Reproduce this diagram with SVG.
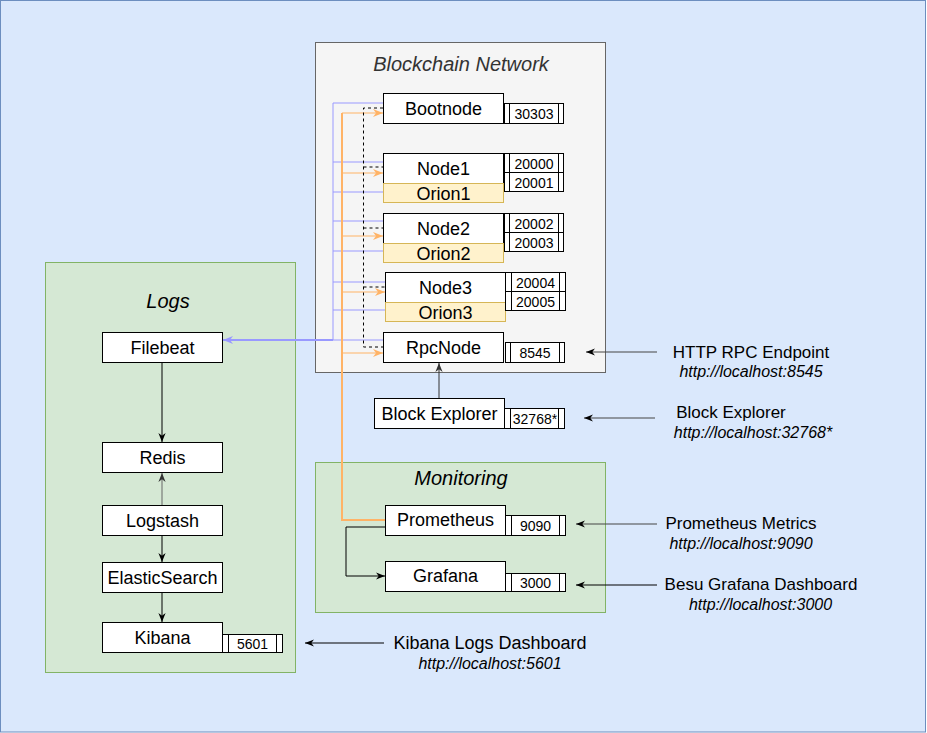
<svg xmlns="http://www.w3.org/2000/svg" width="927" height="733" viewBox="0 0 927 733">
<style>
text{font-family:"Liberation Sans",Arial,sans-serif;fill:#000}
.t{font-size:20px;font-style:italic;text-anchor:middle}
.n{font-size:18px;text-anchor:middle}
.p{font-size:14px;text-anchor:middle}
.a{font-size:17px;text-anchor:middle}
.u{font-size:16px;font-style:italic;text-anchor:middle}
.box{fill:#fff;stroke:#000;stroke-width:1}
.orion{fill:#fff2cc;stroke:#d6b656;stroke-width:1}
.port{fill:#fff;stroke:#000;stroke-width:1}
.pl{stroke:#000;stroke-width:1;fill:none}
.blk{stroke:#000;stroke-width:1;fill:none}
.blue{stroke:#9999ff;stroke-width:1;fill:none}
.org{stroke:#ffb366;stroke-width:1.2;fill:none}
.dash{stroke:#000;stroke-width:1;fill:none;stroke-dasharray:3 3}
</style>
<defs>
<marker id="ab" viewBox="0 0 10 10" refX="10" refY="5" markerWidth="9" markerHeight="9" markerUnits="userSpaceOnUse" orient="auto"><path d="M0,1 L10,5 L0,9 L3,5 z" fill="#000"/></marker>
<marker id="ag" viewBox="0 0 10 10" refX="10" refY="5" markerWidth="9" markerHeight="9" markerUnits="userSpaceOnUse" orient="auto"><path d="M0,1 L10,5 L0,9 L3,5 z" fill="#333"/></marker>
<marker id="ao" viewBox="0 0 10 10" refX="10" refY="5" markerWidth="10" markerHeight="10" markerUnits="userSpaceOnUse" orient="auto"><path d="M0,1 L10,5 L0,9 L3,5 z" fill="#ffb366"/></marker>
<marker id="au" viewBox="0 0 10 10" refX="10" refY="5" markerWidth="10" markerHeight="10" markerUnits="userSpaceOnUse" orient="auto"><path d="M0,1 L10,5 L0,9 L3,5 z" fill="#9999ff"/></marker>
</defs>

<rect x="0.5" y="0.5" width="925" height="731.5" fill="#dae8fc" stroke="#6c8ebf"/>

<g id="blockchain-network">
<rect x="315.5" y="42.5" width="290" height="330" fill="#f5f5f5" stroke="#666"/>
<text class="t" x="461" y="71" style="fill:#333">Blockchain Network</text>
</g>
<g id="logs">
<rect x="45.5" y="262.5" width="250" height="410" fill="#d5e8d4" stroke="#82b366"/>
<text class="t" x="168" y="308">Logs</text>
</g>
<g id="monitoring">
<rect x="315.5" y="462.5" width="290" height="150" fill="#d5e8d4" stroke="#82b366"/>
<text class="t" x="461" y="485">Monitoring</text>
</g>

<g id="connectors">
<path class="blue" d="M333,103 V340"/>
<path class="blue" d="M333,103 H383 M333,162 H383 M333,192 H383 M333,221 H383 M333,251 H383 M333,282 H385 M333,310 H385 M333,340 H383"/>
<path class="blue" d="M333,340 H223" style="stroke-width:2" marker-end="url(#au)"/>
<path class="org" d="M342,113 V520 H385" style="stroke-width:2"/>
<path class="org" d="M342,113 H383" marker-end="url(#ao)"/>
<path class="org" d="M342,173 H383" marker-end="url(#ao)"/>
<path class="org" d="M342,236 H383" marker-end="url(#ao)"/>
<path class="org" d="M342,292 H385" marker-end="url(#ao)"/>
<path class="org" d="M342,353 H383" marker-end="url(#ao)"/>
<path class="dash" d="M383,108 H363.5 V347 H383"/>
<path class="dash" d="M363.5,167 H383 M363.5,228 H383 M363.5,287 H385"/>
<path class="blk" d="M439,398.5 V363" style="stroke:#333" marker-end="url(#ag)"/>
<path class="blk" d="M385.5,527 H346 V576 H385" marker-end="url(#ab)"/>
<path class="blk" d="M162,362.5 V442" marker-end="url(#ab)"/>
<path class="blk" d="M162,505.5 V473" style="stroke:#666" marker-end="url(#ag)"/>
<path class="blk" d="M162,535.5 V562" marker-end="url(#ab)"/>
<path class="blk" d="M162,592.5 V622" marker-end="url(#ab)"/>
<path class="blk" d="M657,352 H586" style="stroke:#444" marker-end="url(#ab)"/>
<path class="blk" d="M655,418 H584" style="stroke:#444" marker-end="url(#ab)"/>
<path class="blk" d="M657,524 H576" style="stroke:#444" marker-end="url(#ab)"/>
<path class="blk" d="M657,585 H576" marker-end="url(#ab)"/>
<path class="blk" d="M384,643 H305" marker-end="url(#ab)"/>
</g>

<g id="bootnode">
<rect class="box" x="383.5" y="93.5" width="120" height="30"/>
<text class="n" x="443.5" y="114.5">Bootnode</text>
<rect class="port" x="504.5" y="103.5" width="59" height="20"/>
<path class="pl" d="M509.5,103.5 V123.5 M558.5,103.5 V123.5"/>
<text class="p" x="534" y="119">30303</text>
</g>

<g id="node1">
<rect class="box" x="383.5" y="153.5" width="120" height="30"/>
<text class="n" x="443.5" y="174.5">Node1</text>
<rect class="orion" x="383.5" y="183.5" width="120" height="19"/>
<text class="n" x="443.5" y="199.5">Orion1</text>
<rect class="port" x="504.5" y="153.5" width="59" height="19"/>
<rect class="port" x="504.5" y="172.5" width="59" height="19"/>
<path class="pl" d="M509.5,153.5 V191.5 M558.5,153.5 V191.5"/>
<text class="p" x="534" y="168.5">20000</text>
<text class="p" x="534" y="187.5">20001</text>
</g>

<g id="node2">
<rect class="box" x="383.5" y="213.5" width="120" height="30"/>
<text class="n" x="443.5" y="234.5">Node2</text>
<rect class="orion" x="383.5" y="243.5" width="120" height="19"/>
<text class="n" x="443.5" y="259.5">Orion2</text>
<rect class="port" x="504.5" y="213.5" width="59" height="19"/>
<rect class="port" x="504.5" y="232.5" width="59" height="19"/>
<path class="pl" d="M509.5,213.5 V251.5 M558.5,213.5 V251.5"/>
<text class="p" x="534" y="228.5">20002</text>
<text class="p" x="534" y="247.5">20003</text>
</g>

<g id="node3">
<rect class="box" x="385.5" y="272.5" width="120" height="30"/>
<text class="n" x="445.5" y="293.5">Node3</text>
<rect class="orion" x="385.5" y="302.5" width="120" height="19"/>
<text class="n" x="445.5" y="318.5">Orion3</text>
<rect class="port" x="505.5" y="272.5" width="60" height="19"/>
<rect class="port" x="505.5" y="291.5" width="60" height="19"/>
<path class="pl" d="M511.5,272.5 V310.5 M559.5,272.5 V310.5"/>
<text class="p" x="535.5" y="287.5">20004</text>
<text class="p" x="535.5" y="306.5">20005</text>
</g>

<g id="rpcnode">
<rect class="box" x="383.5" y="332.5" width="120" height="30"/>
<text class="n" x="443.5" y="353.5">RpcNode</text>
<rect class="port" x="505.5" y="342.5" width="59" height="20"/>
<path class="pl" d="M510.5,342.5 V362.5 M559.5,342.5 V362.5"/>
<text class="p" x="535" y="358">8545</text>
</g>

<g id="block-explorer">
<rect class="box" x="374.5" y="398.5" width="130" height="30"/>
<text class="n" x="439.5" y="419.5">Block Explorer</text>
<rect class="port" x="504.5" y="408.5" width="60" height="20"/>
<path class="pl" d="M510.5,408.5 V428.5 M558.5,408.5 V428.5"/>
<text class="p" x="535" y="424">32768*</text>
</g>

<g id="prometheus">
<rect class="box" x="385.5" y="505.5" width="120" height="30"/>
<text class="n" x="445.5" y="526">Prometheus</text>
<rect class="port" x="505.5" y="515.5" width="60" height="20"/>
<path class="pl" d="M511.5,515.5 V535.5 M559.5,515.5 V535.5"/>
<text class="p" x="535.5" y="530.5">9090</text>
</g>

<g id="grafana">
<rect class="box" x="385.5" y="561.5" width="120" height="30"/>
<text class="n" x="445.5" y="582">Grafana</text>
<rect class="port" x="505.5" y="573.5" width="60" height="18"/>
<path class="pl" d="M511.5,573.5 V591.5 M559.5,573.5 V591.5"/>
<text class="p" x="535.5" y="588">3000</text>
</g>

<g id="filebeat">
<rect class="box" x="102.5" y="332.5" width="120" height="30"/>
<text class="n" x="162.5" y="353.5">Filebeat</text>
</g>
<g id="redis">
<rect class="box" x="102.5" y="442.5" width="120" height="30"/>
<text class="n" x="162.5" y="463.5">Redis</text>
</g>
<g id="logstash">
<rect class="box" x="102.5" y="505.5" width="120" height="30"/>
<text class="n" x="162.5" y="526.5">Logstash</text>
</g>
<g id="elasticsearch">
<rect class="box" x="102.5" y="562.5" width="120" height="30"/>
<text class="n" x="162.5" y="583.5">ElasticSearch</text>
</g>
<g id="kibana">
<rect class="box" x="102.5" y="622.5" width="120" height="30"/>
<text class="n" x="162.5" y="643.5">Kibana</text>
<rect class="port" x="222.5" y="634.5" width="60" height="18"/>
<path class="pl" d="M228.5,634.5 V652.5 M276.5,634.5 V652.5"/>
<text class="p" x="252.5" y="649">5601</text>
</g>

<g id="endpoint-rpc">
<text class="a" x="751" y="357.5">HTTP RPC Endpoint</text>
<text class="u" x="751" y="376.5">http://localhost:8545</text>
</g>
<g id="endpoint-explorer">
<text class="a" x="731" y="418">Block Explorer</text>
<text class="u" x="753" y="438">http://localhost:32768*</text>
</g>
<g id="endpoint-prometheus">
<text class="a" x="741" y="529">Prometheus Metrics</text>
<text class="u" x="741" y="549">http://localhost:9090</text>
</g>
<g id="endpoint-grafana">
<text class="a" x="761" y="590">Besu Grafana Dashboard</text>
<text class="u" x="760.5" y="610">http://localhost:3000</text>
</g>
<g id="endpoint-kibana">
<text class="a" x="490" y="649" style="font-size:18px">Kibana Logs Dashboard</text>
<text class="u" x="490" y="669">http://localhost:5601</text>
</g>
</svg>
